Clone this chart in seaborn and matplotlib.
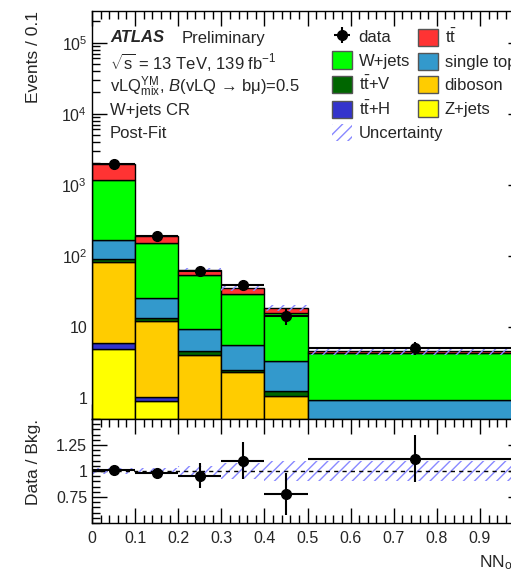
import matplotlib
matplotlib.use('Agg')
from matplotlib import pyplot as plt
from matplotlib.patches import Patch
from matplotlib.ticker import MultipleLocator, FuncFormatter, LogLocator, NullFormatter, FixedLocator
import numpy as np
import pandas as pd
import seaborn as sns

# binning of the NN output
edges = [0.0, 0.1, 0.2, 0.3, 0.4, 0.5, 1.0]
centers = [0.05, 0.15, 0.25, 0.35, 0.45, 0.75]

# post-fit yields, events / 0.1
ttbar = [782, 40, 10.7, 5.9, 2.7, 0.23]
wjets = [982, 125, 43.5, 23.6, 12.3, 3.32]
single_top = [77, 12.3, 4.8, 3.1, 2.09, 0.54]
ttv = [10.3, 1.4, 0.46, 0.21, 0.16, 0.04]
diboson = [74.6, 10.9, 3.68, 2.03, 0.94, 0.30]
tth = [1.0, 0.13, 0.05, 0.04, 0.03, 0.01]
zjets = [4.9, 0.89, 0.30, 0.20, 0.10, 0.05]

data = [1950, 188, 61, 38.5, 14.3, 5.0]
data_err = [44, 13.7, 7.8, 6.2, 3.8, 1.0]

ratio = [1.005, 0.98, 0.955, 1.10, 0.776, 1.12]
ratio_err = [0.023, 0.035, 0.12, 0.175, 0.20, 0.23]
rel_unc = [0.025, 0.03, 0.05, 0.08, 0.10, 0.10]

# stacking order, top to bottom
names = ['ttbar', 'W+jets', 'single top', 'ttV', 'diboson', 'ttH', 'Z+jets']
yields = [ttbar, wjets, single_top, ttv, diboson, tth, zjets]
tt = r'$\mathrm{t}\bar{\mathrm{t}}$'
labels = {'ttbar': tt, 'W+jets': 'W+jets', 'single top': 'single top',
          'ttV': tt + '+V', 'diboson': 'diboson', 'ttH': tt + '+H',
          'Z+jets': 'Z+jets'}
colors = {'ttbar': '#ff3333', 'W+jets': '#00ff00', 'single top': '#3399cc',
          'ttV': '#006600', 'diboson': '#ffcc00', 'ttH': '#3333cc',
          'Z+jets': '#ffff00'}

rows = []
for n, ys in zip(names, yields):
    for c, y in zip(centers, ys):
        rows.append({'x': c, 'w': y, 'process': n})
df = pd.DataFrame(rows)

sns.set_style('ticks')
plt.rcParams['font.family'] = ['Liberation Sans', 'DejaVu Sans']
plt.rcParams['mathtext.fontset'] = 'custom'
plt.rcParams['mathtext.rm'] = 'Liberation Sans'
plt.rcParams['mathtext.it'] = 'Liberation Sans:italic'
plt.rcParams['mathtext.bf'] = 'Liberation Sans:bold'
plt.rcParams['font.size'] = 11
plt.rcParams['hatch.linewidth'] = 1.0

W, H = 511, 576
fig = plt.figure(figsize=(W / 100, H / 100), dpi=100)
ax = fig.add_axes([92 / W, (H - 419) / H, 431 / W, 408 / H])
axr = fig.add_axes([92 / W, (H - 523) / H, 431 / W, 104 / H], sharex=ax)

sns.histplot(data=df, x='x', weights='w', hue='process', hue_order=names,
             multiple='stack', bins=edges, palette=colors, edgecolor='black',
             linewidth=1.0, alpha=1, legend=False, ax=ax)
ax.set_yscale('log')

total = np.sum(yields, axis=0)
band_lo = np.append(total * (1 - np.array(rel_unc)), total[-1] * (1 - rel_unc[-1]))
band_hi = np.append(total * (1 + np.array(rel_unc)), total[-1] * (1 + rel_unc[-1]))
ax.fill_between(edges, band_lo, band_hi, step='post', facecolor='none',
                edgecolor='#8888ff', hatch='///', linewidth=0, zorder=4)

half = [(edges[i + 1] - edges[i]) / 2 for i in range(len(centers))]
dh = ax.errorbar(centers, data, yerr=data_err, xerr=half, fmt='o', color='black',
                 ms=7, elinewidth=1.5, capsize=0, zorder=6)

ax.set_xlim(0, 1)
ax.set_ylim(0.5, 2.8e5)
ax.set_xlabel('')
ax.set_ylabel('Events / 0.1', fontsize=12.5, loc='top')
ax.yaxis.set_label_coords(-0.118, 1.0)


def log_fmt(v, pos):
    if v == 1:
        return '1'
    if v == 10:
        return '10'
    return r'$10^{%d}$' % int(round(np.log10(v)))


ax.yaxis.set_major_locator(LogLocator(base=10, numticks=10))
ax.yaxis.set_major_formatter(FuncFormatter(log_fmt))
ax.yaxis.set_minor_locator(LogLocator(base=10, subs=np.arange(2, 10), numticks=20))
ax.yaxis.set_minor_formatter(NullFormatter())

# ratio panel
axr.fill_between(edges, np.append(1 - np.array(rel_unc), 1 - rel_unc[-1]),
                 np.append(1 + np.array(rel_unc), 1 + rel_unc[-1]), step='post',
                 facecolor='none', edgecolor='#8888ff', hatch='///', linewidth=0)
axr.axhline(1.0, color='black', linestyle=(0, (3, 3)), linewidth=1)
axr.errorbar(centers, ratio, yerr=ratio_err, xerr=half, fmt='o', color='black',
             ms=7, elinewidth=1.5, capsize=0, zorder=6)
axr.set_ylim(0.5, 1.5)
axr.set_xlim(0, 1)
axr.yaxis.set_major_locator(FixedLocator([0.75, 1.0, 1.25]))
axr.yaxis.set_major_formatter(FuncFormatter(lambda v, p: '%g' % v))
axr.yaxis.set_minor_locator(MultipleLocator(0.05))
axr.xaxis.set_major_locator(MultipleLocator(0.1))
axr.xaxis.set_minor_locator(MultipleLocator(0.02))
axr.xaxis.set_major_formatter(FuncFormatter(lambda v, p: '' if v > 0.95 else '%g' % round(v, 2)))
axr.set_ylabel('Data / Bkg.', fontsize=12.5, loc='top')
axr.yaxis.set_label_coords(-0.118, 1.0)
axr.set_xlabel(r'NN$_{\rm out}$', fontsize=12.5, loc='right', labelpad=5)

for a in (ax, axr):
    a.tick_params(which='both', direction='in', top=True, right=True,
                  labelsize=11.5, width=1, color='black')
    a.tick_params(which='major', length=11)
    a.tick_params(which='minor', length=5.5)
    for s in a.spines.values():
        s.set_linewidth(1)
        s.set_color('black')
ax.tick_params(axis='x', which='both', labelbottom=False)
axr.tick_params(axis='x', pad=6)


# ATLAS label block
def fy(y):
    return 1 - y / H


fs = 12
fig.text(110 / W, fy(38), 'ATLAS', fontsize=fs, fontweight='bold', style='italic', va='center')
fig.text(182 / W, fy(38), 'Preliminary', fontsize=fs, va='center')
fig.text(110 / W, fy(62), r'$\sqrt{\mathrm{s}}$ = 13 TeV, 139 fb$^{-1}$', fontsize=fs, va='center')
fig.text(110 / W, fy(87), r'vLQ$^{\rm YM}_{\rm mix}$, $B$(vLQ → bμ)=0.5', fontsize=fs, va='center')
fig.text(110 / W, fy(110), 'W+jets CR', fontsize=fs, va='center')
fig.text(110 / W, fy(134), 'Post-Fit', fontsize=fs, va='center')


# legends
def patch(n):
    return Patch(facecolor=colors[n], edgecolor='#555555', linewidth=1, label=labels[n])


unc_patch = Patch(facecolor='none', edgecolor='#8888ff', hatch='///', linewidth=0,
                  label='Uncertainty')
h1 = [dh, patch('W+jets'), patch('ttV'), patch('ttH'), unc_patch]
l1 = ['data', 'W+jets', labels['ttV'], labels['ttH'], 'Uncertainty']
h2 = [patch('ttbar'), patch('single top'), patch('diboson'), patch('Z+jets')]
l2 = [labels['ttbar'], 'single top', 'diboson', 'Z+jets']
common = dict(frameon=False, fontsize=fs, handlelength=1.2, handleheight=1.2,
              handletextpad=0.4, labelspacing=0.38, borderpad=0, borderaxespad=0,
              loc='upper left')
leg1 = ax.legend(h1, l1, bbox_to_anchor=(332 / W, fy(28)),
                 bbox_transform=fig.transFigure, **common)
ax.add_artist(leg1)
ax.legend(h2, l2, bbox_to_anchor=(418 / W, fy(28)), bbox_transform=fig.transFigure, **common)

plt.savefig('out.png', dpi=100)
